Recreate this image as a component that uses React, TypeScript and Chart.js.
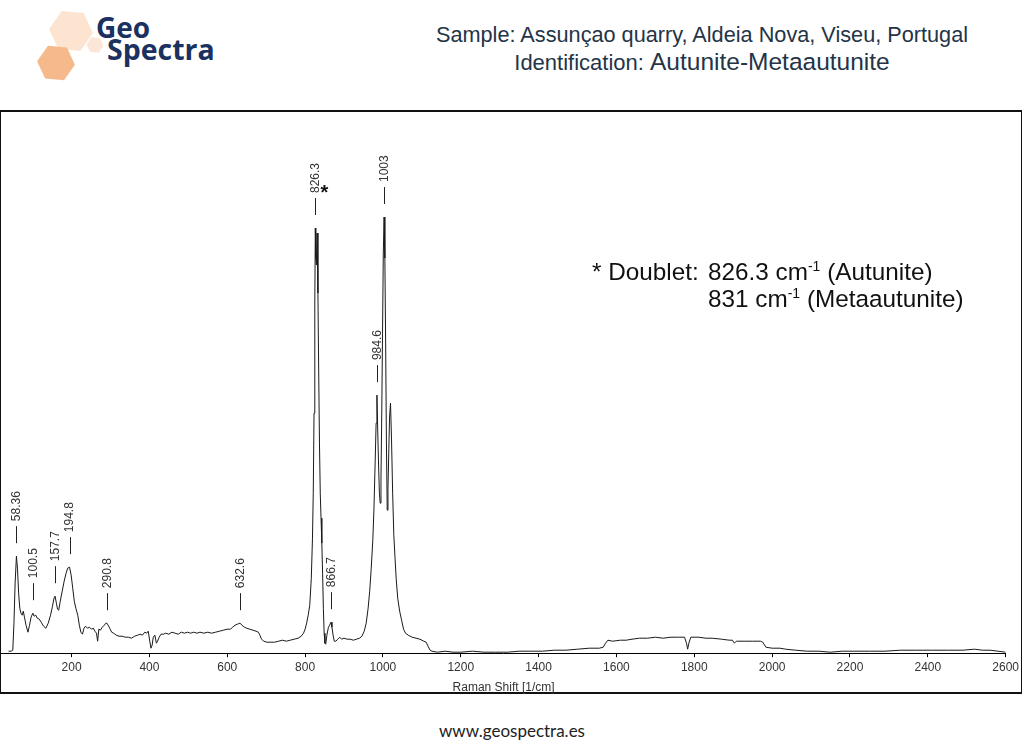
import React, { useEffect, useRef } from "react";
import { Chart, registerables } from "chart.js";

Chart.register(...registerables);

// Raman shift (cm-1) and intensity (a.u.)
const ramanShift: number[] = [
  38, 45, 49, 52, 55, 58.36, 61, 64, 67, 70, 73, 76, 79, 83, 88, 92, 96, 100.5, 104, 108,
  112, 117, 122, 128, 134, 140, 146, 151, 155, 157.7, 161, 164, 167, 171, 176, 181, 186, 190, 194.8, 199,
  203, 207, 211, 216, 220, 224, 228, 232, 236, 241, 246, 251, 256, 260, 264, 267, 270, 274, 279, 284,
  288, 290.8, 294, 298, 303, 308, 315, 322, 330, 338, 346, 354, 362, 370, 376, 382, 388, 393, 397, 401,
  404, 407, 410, 414, 418, 421, 425, 430, 436, 442, 450, 458, 466, 474, 482, 490, 498, 506, 514, 522,
  530, 540, 550, 560, 570, 580, 590, 600, 608, 614, 620, 626, 632.6, 638, 644, 650, 658, 666, 674, 680,
  684, 688, 694, 702, 712, 722, 732, 742, 752, 762, 772, 782, 790, 796, 800, 804, 808, 812, 816, 819,
  821, 823, 825, 826.3, 827.5, 829, 831, 833, 835, 837, 839, 841, 843, 845, 847, 849, 851, 853, 856, 860,
  863, 866.7, 869, 872, 875, 879, 884, 889, 894, 900, 908, 916, 924, 932, 940, 946, 952, 957, 962, 966,
  970, 974, 977, 980, 982.5, 984.6, 986.5, 989, 991, 993, 995, 997, 999, 1001, 1003, 1005, 1007, 1009, 1011, 1013,
  1015, 1017, 1019.5, 1022, 1025, 1028, 1031, 1034, 1038, 1043, 1048, 1053, 1058, 1065, 1075, 1085, 1095, 1105, 1111, 1116,
  1121, 1126, 1140, 1160, 1180, 1200, 1230, 1260, 1290, 1320, 1350, 1380, 1410, 1440, 1470, 1500, 1530, 1556, 1566, 1572,
  1578, 1590, 1610, 1625, 1640, 1659, 1680, 1700, 1720, 1740, 1760, 1775, 1780, 1783, 1786, 1791, 1810, 1830, 1846, 1870,
  1890, 1898, 1903, 1908, 1930, 1950, 1970, 1976, 1984, 2000, 2020, 2035, 2060, 2090, 2120, 2150, 2180, 2210, 2250, 2290,
  2330, 2370, 2410, 2450, 2490, 2520, 2540, 2560, 2580, 2600,
];

const intensity: number[] = [
  2, 2, 3, 30, 70, 97, 85, 60, 45, 40, 38, 42, 36, 28, 21, 28, 36, 40, 37, 38,
  35, 34, 31, 27, 25, 30, 38, 47, 55, 57, 50, 44, 43, 52, 62, 72, 80, 85, 86, 78,
  65, 52, 45, 38, 28, 21, 19, 25, 27, 25, 26, 24, 25, 22, 20, 12, 24, 23, 26, 28,
  30, 30, 28, 25, 21, 20, 18, 17, 17, 16, 16, 15, 17, 18, 19, 18, 21, 20, 22, 12,
  5, 8, 16, 18, 10, 12, 16, 19, 19, 20, 19, 21, 20, 19, 21, 20, 21, 20, 21, 20,
  21, 20, 21, 20, 21, 22, 23, 24, 24, 26, 28, 29, 30, 28, 26, 25, 24, 23, 22, 21,
  18, 14, 12, 11, 11, 11, 12, 13, 12, 13, 14, 15, 17, 20, 24, 30, 38, 48, 75, 115,
  160, 240, 350, 425, 395, 388, 420, 360, 280, 210, 160, 135, 110, 80, 45, 20, 10, 9, 18, 26,
  28, 31, 26, 18, 12, 12, 14, 16, 14, 15, 14, 14, 13, 14, 15, 17, 22, 30, 45, 62,
  85, 113, 145, 190, 230, 258, 225, 185, 160, 150, 175, 240, 320, 400, 436, 395, 310, 210, 143, 165,
  200, 235, 250, 215, 160, 118, 96, 75, 55, 42, 33, 24, 20, 18, 16, 15, 14, 12, 11, 7,
  3, 2, 1, 2, 1, 1, 2, 1, 1, 1, 2, 2, 2, 3, 3, 4, 5, 5, 6, 10,
  13, 12, 13, 13, 14, 15, 15, 16, 15, 16, 16, 16, 10, 4, 10, 16, 16, 15, 15, 14,
  13, 13, 10, 12, 12, 12, 12, 11, 6, 5, 5, 4, 3, 2, 2, 1, 2, 2, 2, 2,
  3, 3, 3, 3, 3, 4, 3, 3, 2, 1,
];

const tickValues: number[] = [200, 400, 600, 800, 1000, 1200, 1400, 1600, 1800, 2000, 2200, 2400, 2600];

const peakPositions: number[] = [58.36, 100.5, 157.7, 194.8, 290.8, 632.6, 826.3, 866.7, 984.6, 1003];
const peakLabels: string[] = ["58.36", "100.5", "157.7", "194.8", "290.8", "632.6", "826.3", "866.7", "984.6", "1003"];
const markedPeak = "826.3";

const FONT = '"Liberation Sans", Arial, sans-serif';

const peakLabelPlugin = {
  id: "peakLabels",
  afterDatasetsDraw(chart: any) {
    const { ctx, scales } = chart;
    const xs = scales.x;
    const ys = scales.y;
    ctx.save();
    peakPositions.forEach((pos, i) => {
      let idx = ramanShift.indexOf(pos);
      if (idx < 0) idx = 0;
      const px = xs.getPixelForValue(pos);
      const py = ys.getPixelForValue(intensity[idx]);
      const lx = Math.round(px) + 0.5;
      ctx.strokeStyle = "#222";
      ctx.lineWidth = 1;
      ctx.beginPath();
      ctx.moveTo(lx, py - 13);
      ctx.lineTo(lx, py - 30);
      ctx.stroke();
      ctx.save();
      ctx.translate(px + 0.5, py - 35);
      ctx.rotate(-Math.PI / 2);
      ctx.font = `12px ${FONT}`;
      ctx.fillStyle = "#333";
      ctx.textAlign = "left";
      ctx.textBaseline = "middle";
      ctx.fillText(peakLabels[i], 0, 0);
      ctx.restore();
      if (peakLabels[i] === markedPeak) {
        ctx.font = `bold 20px ${FONT}`;
        ctx.fillStyle = "#111";
        ctx.textAlign = "center";
        ctx.textBaseline = "alphabetic";
        ctx.fillText("*", px + 9, py - 29);
      }
    });
    ctx.restore();
  },
};

function SpectrumChart() {
  const ref = useRef<HTMLCanvasElement | null>(null);
  useEffect(() => {
    if (!ref.current) return;
    const points = ramanShift.map((x, i) => ({ x, y: intensity[i] }));
    const chart = new Chart(ref.current, {
      type: "line",
      data: {
        datasets: [
          {
            data: points,
            borderColor: "#1a1a1a",
            borderWidth: 1,
            pointRadius: 0,
            tension: 0,
            fill: false,
          },
        ],
      },
      options: {
        animation: false,
        responsive: false,
        maintainAspectRatio: false,
        devicePixelRatio: 1,
        parsing: false as any,
        layout: { padding: { left: 1.5, right: 15.3, top: 0, bottom: 0 } },
        plugins: { legend: { display: false }, tooltip: { enabled: false } },
        scales: {
          x: {
            type: "linear",
            min: 20,
            max: 2600,
            afterBuildTicks: (scale: any) => {
              scale.ticks = tickValues.map((v) => ({ value: v }));
            },
            grid: { drawOnChartArea: false, drawTicks: true, tickLength: 4, color: "#000" },
            border: { display: true, color: "#000", width: 1 },
            ticks: {
              color: "#333",
              font: { size: 12, family: FONT },
              maxRotation: 0,
              autoSkip: false,
              padding: 3,
              callback: (v: any) => String(v),
            },
            title: {
              display: true,
              text: "Raman Shift [1/cm]",
              color: "#333",
              font: { size: 12, family: FONT },
              padding: { top: 3, bottom: 5 },
            },
          },
          y: { display: false, min: 0, max: 541 },
        },
      },
      plugins: [peakLabelPlugin],
    });
    return () => chart.destroy();
  }, []);
  return (
    <canvas
      ref={ref}
      width={1022}
      height={588}
      style={{ position: "absolute", left: 0, top: 112, width: 1022, height: 588 }}
    />
  );
}

function hexPoints(cx: number, cy: number, r: number, rot: number) {
  const pts: string[] = [];
  for (let k = 0; k < 6; k++) {
    const a = ((60 * k + rot) * Math.PI) / 180;
    pts.push(`${(cx + r * Math.cos(a)).toFixed(1)},${(cy + r * Math.sin(a)).toFixed(1)}`);
  }
  return pts.join(" ");
}

function Logo() {
  return (
    <svg width={240} height={95} style={{ position: "absolute", left: 0, top: 0 }}>
      <polygon points={hexPoints(71, 31, 22, 5)} fill="#fde4d0" />
      <polygon points={hexPoints(95, 45, 8.5, 5)} fill="#fbe6d8" />
      <polygon points={hexPoints(56, 63, 19, 5)} fill="#f6b98b" />
      <text x={96} y={38} fontFamily='"Open Sans", sans-serif' fontWeight={700} fontSize={28} fill="#1b3160">
        Geo
      </text>
      <text x={107} y={60} fontFamily='"Open Sans", sans-serif' fontWeight={700} fontSize={28.5} fill="#1b3160">
        Spectra
      </text>
    </svg>
  );
}

const supStyle: React.CSSProperties = {
  fontSize: 14,
  position: "relative",
  top: -9,
  verticalAlign: "baseline",
  lineHeight: 0,
};

export default function App() {
  return (
    <div
      style={{
        position: "absolute",
        left: 0,
        top: 0,
        width: 1024,
        height: 754,
        background: "#fff",
        overflow: "hidden",
        fontFamily: FONT,
      }}
    >
      <Logo />
      <div
        style={{
          position: "absolute",
          left: 402,
          top: 21,
          width: 600,
          textAlign: "center",
          color: "#243447",
          whiteSpace: "nowrap",
        }}
      >
        <div style={{ fontSize: 21.7, lineHeight: "27px" }}>
          Sample: Assunçao quarry, Aldeia Nova, Viseu, Portugal
        </div>
        <div style={{ fontSize: 22, lineHeight: "27px" }}>
          Identification: <span style={{ fontSize: 24.5 }}>Autunite-Metaautunite</span>
        </div>
      </div>
      <div
        style={{
          position: "absolute",
          left: 0,
          top: 110,
          width: 1022,
          height: 584,
          boxSizing: "border-box",
          borderTop: "2px solid #111",
          borderLeft: "1px solid #111",
          borderRight: "1px solid #111",
          borderBottom: "2px solid #111",
        }}
      />
      <SpectrumChart />
      <div
        style={{
          position: "absolute",
          left: 592,
          top: 258,
          color: "#111",
          fontSize: 24.3,
          lineHeight: "27px",
          whiteSpace: "nowrap",
        }}
      >
        <div>
          <span style={{ display: "inline-block", width: 116 }}>* Doublet:</span>826.3 cm
          <sup style={supStyle}>-1</sup> (Autunite)
        </div>
        <div>
          <span style={{ display: "inline-block", width: 116 }}></span>831 cm
          <sup style={supStyle}>-1</sup> (Metaautunite)
        </div>
      </div>
      <div
        style={{
          position: "absolute",
          left: 0,
          top: 720,
          width: 1024,
          textAlign: "center",
          fontFamily: 'Lato, "Open Sans", sans-serif',
          fontSize: 17,
          color: "#222",
        }}
      >
        www.geospectra.es
      </div>
    </div>
  );
}
